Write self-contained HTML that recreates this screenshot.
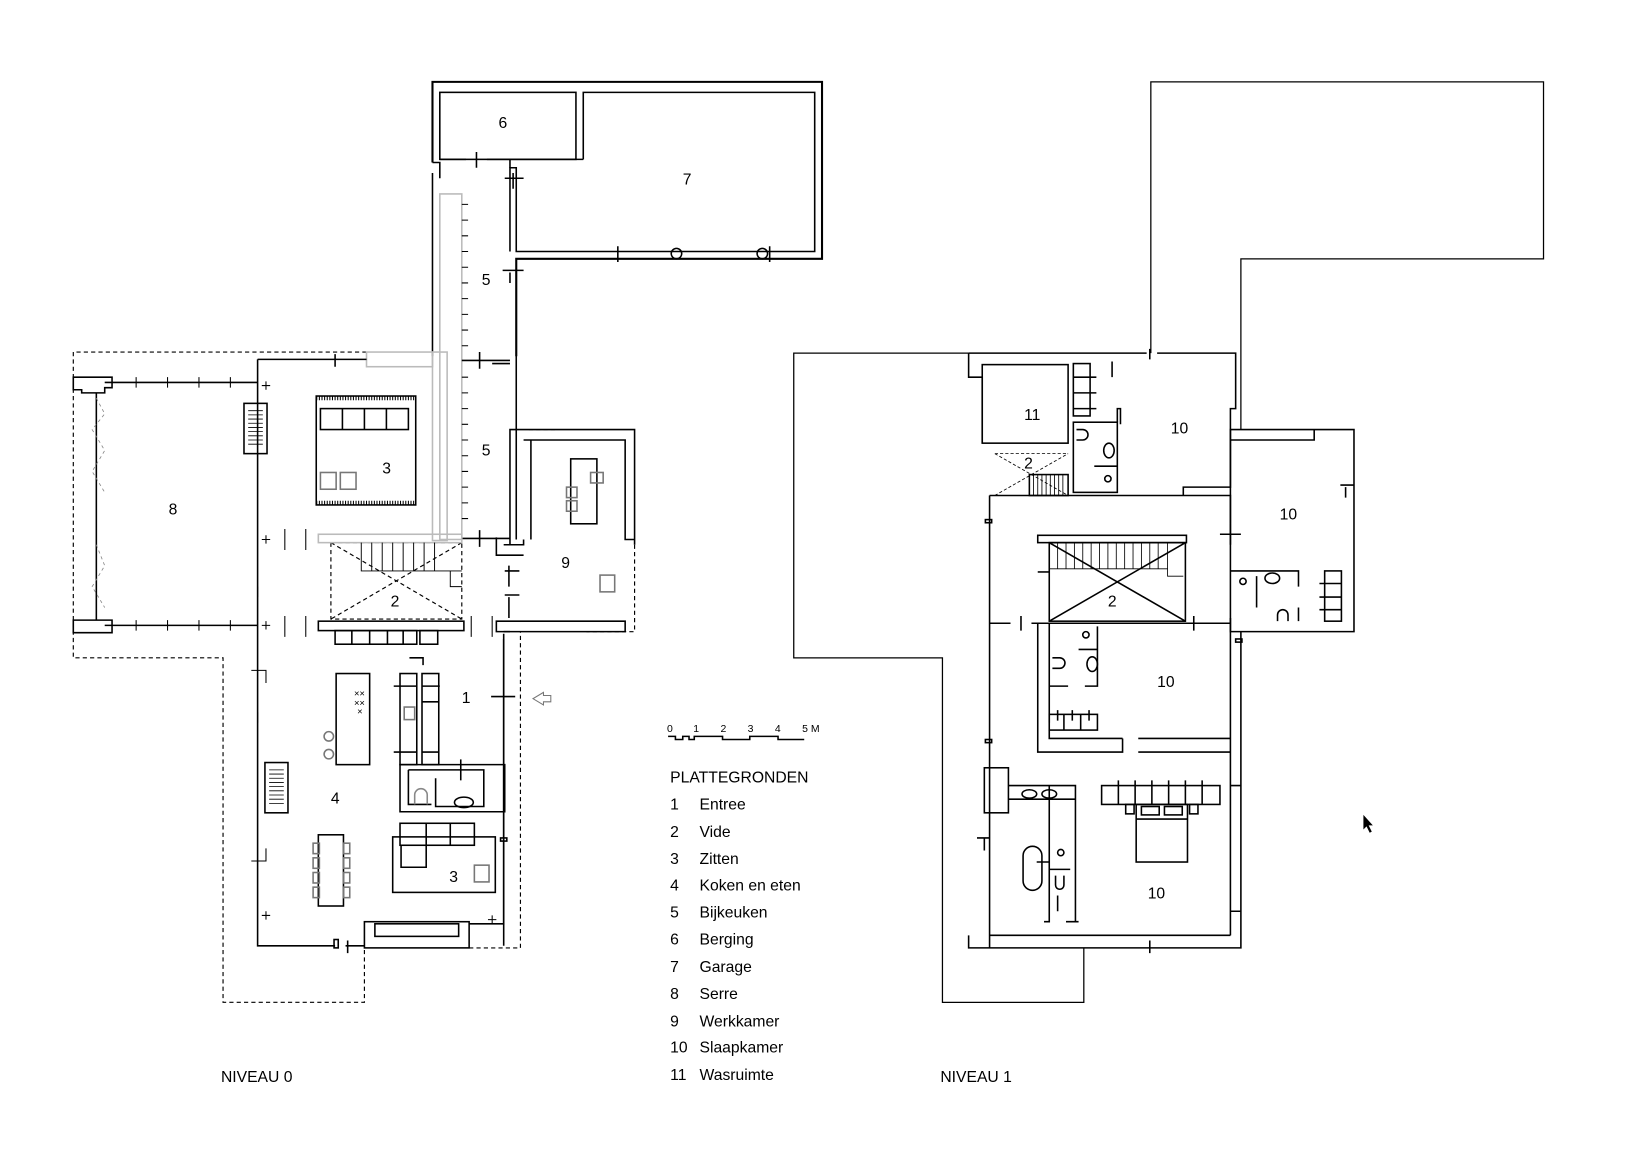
<!DOCTYPE html>
<html><head><meta charset="utf-8"><style>
html,body{margin:0;padding:0;background:#fff;}
svg{display:block}
text{font-family:"Liberation Sans",Arial,sans-serif;fill:#000}
</style></head><body>
<svg width="1643" height="1168" viewBox="0 0 1569 1115" xmlns="http://www.w3.org/2000/svg">
<g fill="none" stroke="#000" stroke-width="1.5">
<!-- ===== NIVEAU 0 ===== -->
<!-- dashed outlines -->
<g stroke-dasharray="4,3" stroke-width="1.1">
<path d="M350,336 H70 V628 H213 V957 H348 V905"/>
<path d="M448,905 H497 V603"/>
<path d="M606,520 V603 H560"/>
<path d="M505,410 H530"/>
<rect x="316" y="518" width="125" height="73"/>
<path d="M316,518 L441,591 M441,518 L316,591"/>
<path d="M577,247 H778"/>
</g>
<!-- top block -->
<path d="M413,155 V78 H785 V247 H493 V340" stroke-width="2"/>
<rect x="420" y="88" width="130" height="64"/>
<path d="M557,152 V88 H778 V240 H493 V160 H487 V240"/>
<path d="M420,152 H445 M465,152 H487 V160 M487,152 H557"/>
<path d="M413,155 H420 V170 M413,165 V340"/>
<path d="M455,145 V160 M490,165 V180 M590,235 V250 M735,235 V250 M482,170 H500 M480,258 H500"/>
<circle cx="646" cy="242" r="5"/><circle cx="728" cy="242" r="5"/>
<path d="M493,260 V515 M487,260 V270"/>
<!-- kitchen 5 fittings -->
<rect x="420" y="185" width="21" height="330" stroke="#bbb"/>
<g stroke-width="1">
<path d="M441,195H447M441,210H447M441,225H447M441,240H447M441,255H447M441,270H447M441,285H447M441,300H447M441,315H447M441,330H447M441,360H447M441,375H447M441,390H447M441,405H447M441,420H447M441,435H447M441,450H447M441,465H447M441,480H447M441,495H447"/>
</g>
<path d="M441,344 H487 M458,336 V352 M470,347 H487"/>
<path d="M441,514 H487 M458,506 V522"/>
<!-- gray walls -->
<g stroke="#bbb" stroke-width="1.5">
<rect x="350" y="336" width="63" height="14"/>
<rect x="413" y="336" width="14" height="180"/>
<rect x="304" y="510" width="137" height="8"/>
</g>
<!-- main body walls -->
<path d="M246,343 H350 M246,343 V903 H320 M330,903 H348 M448,882 H481 V605 M481,603 H487 M481,520 H493"/>
<rect x="319" y="897" width="4" height="8"/>
<path d="M332,898 V910 M320,338 V350"/>
<rect x="348" y="880" width="100" height="25"/>
<rect x="358" y="882" width="80" height="12"/>
<!-- serre -->
<path d="M100,365 H246 M100,597 H246 M92,375 V592"/>
<path d="M70,360 H107 V370 H100 V375 H78 V372 H70 Z M70,592 H107 V604 H70 Z"/>
<g stroke-width="1"><path d="M130,360V370M160,360V370M190,360V370M220,360V370M130,592V602M160,592V602M190,592V602M220,592V602"/></g>
<g stroke="#888" stroke-dasharray="3,3" stroke-width="0.8"><path d="M92,380 L100,395 L88,410 L100,430 L88,450 L100,470 M92,520 L100,540 L88,560 L100,580"/></g>
<!-- radiators -->
<rect x="233" y="385" width="22" height="48"/>
<g stroke-width="0.8"><path d="M237,392H251M237,396H251M237,400H251M237,404H251M237,408H251M237,412H251M237,416H251M237,420H251M237,424H251"/></g>
<rect x="253" y="728" width="22" height="48"/>
<g stroke-width="0.8"><path d="M257,735H271M257,739H271M257,743H271M257,747H271M257,751H271M257,755H271M257,759H271M257,763H271M257,767H271"/></g>
<!-- plus marks, door marks -->
<g stroke-width="1"><path d="M250,368H258M254,364V372M250,515H258M254,511V519M250,597H258M254,593V601M250,874H258M254,870V878M466,878H474M470,874V882"/>
<path d="M272,505V525M292,505V525M272,588V608M292,588V608M450,588V608M470,588V608M240,640H254V652M240,822H254V810M246,680V690M246,560V570"/></g>
<!-- zitten 3 upper -->
<rect x="302" y="378" width="95" height="104"/>
<g stroke-width="0.6"><path d="M302,380H397M302,480H397" stroke-dasharray="1,1.5" stroke-width="4"/></g>
<rect x="306" y="390" width="84" height="20"/>
<path d="M327,390V410M348,390V410M369,390V410"/>
<rect x="306" y="451" width="15" height="16" stroke="#777"/><rect x="325" y="451" width="15" height="16" stroke="#777"/>
<!-- stairs -->
<g stroke-width="0.9"><path d="M345,518V545H441M355,518V545M365,518V545M375,518V545M385,518V545M395,518V545M405,518V545M415,518V545M430,545V560H441"/></g>
<!-- kitchen cabinets -->
<rect x="304" y="593" width="139" height="9"/>
<rect x="320" y="602" width="78" height="13"/><rect x="401" y="602" width="17" height="13"/>
<path d="M336,602V615M353,602V615M370,602V615M385,602V615"/>
<path d="M391,628H404V635"/>
<!-- island -->
<rect x="321" y="643" width="32" height="87"/>
<circle cx="314" cy="703" r="4.5" stroke="#777"/><circle cx="314" cy="720" r="4.5" stroke="#777"/>
<text x="338" y="665" font-size="9" stroke="none">××</text><text x="338" y="674" font-size="9" stroke="none">××</text><text x="341" y="682" font-size="9" stroke="none">×</text>
<rect x="382" y="643" width="16" height="87"/><rect x="403" y="643" width="16" height="87"/>
<path d="M382,655H398M403,655H419M403,670H419M382,718H398M403,718H419M376,655H390M410,655H420M376,718H390"/>
<rect x="386" y="675" width="10" height="12" stroke="#777"/>
<!-- wc block -->
<path d="M382,730 H482 V775 H382 Z"/>
<path d="M390,735 H462 V770 H416 V743 M390,735 V768 H412"/>
<path d="M440,725V745"/>
<ellipse cx="443" cy="766" rx="9" ry="5"/>
<path d="M396,768 V759 A6,6 0 0 1 408,759 V768" stroke="#888"/>
<!-- entrance -->
<path d="M469,665 H492 M481,610 V903"/>
<path d="M519,661 L509,667 L519,673 V670 H526 V664 H519 Z" stroke="#777" stroke-width="1"/>
<rect x="478" y="800" width="6" height="3"/>
<!-- zitten 3 lower -->
<rect x="375" y="799" width="98" height="53"/>
<rect x="382" y="786" width="71" height="21"/>
<path d="M383,807 V828 H407 V807 M407,786V807 M430,786V807"/>
<rect x="453" y="826" width="14" height="16" stroke="#777"/>
<!-- dining -->
<rect x="304" y="797" width="24" height="68"/>
<g stroke="#777"><rect x="299" y="805" width="6" height="10"/><rect x="299" y="819" width="6" height="10"/><rect x="299" y="833" width="6" height="10"/><rect x="299" y="847" width="6" height="10"/>
<rect x="328" y="805" width="6" height="10"/><rect x="328" y="819" width="6" height="10"/><rect x="328" y="833" width="6" height="10"/><rect x="328" y="847" width="6" height="10"/></g>
<!-- werkkamer 9 -->
<path d="M487,520 V410 H606 V520 M500,420 H507 V515 M507,420 H597 V515 H606 M487,520 H500 V515"/>
<path d="M474,513 V530 H500 M486,540V560 M486,570V590 M482,545H496 M482,568H496"/>
<path d="M474,593 H597 V603 H474 Z"/>
<rect x="545" y="438" width="25" height="62"/>
<rect x="564" y="451" width="12" height="10" stroke="#777"/><rect x="541" y="465" width="10" height="10" stroke="#777"/><rect x="541" y="478" width="10" height="10" stroke="#777"/>
<rect x="573" y="549" width="14" height="16" stroke="#777"/>

<!-- ===== NIVEAU 1 ===== -->
<path d="M925,337 H758 V628 H900 V957 H1035 V905" stroke-width="1.2"/>
<path d="M1099,337 V78 H1474 V247 H1185 V410" stroke-width="1.2"/>
<!-- outer walls -->
<path d="M925,337 H1095 M1105,337 H1180 V390 H1175 V465 H1130 V473"/>
<path d="M925,337 V360 H938 V423 M945,473 H1175 V500 M1175,590 V603"/>
<path d="M1185,410 H1293 V603 H1175 V410 H1185"/>
<path d="M1175,420 H1255 V410 M1285,465 V475 M1280,463 H1293"/>
<path d="M945,473 V905 M925,893 V905 H1185 V603"/>
<path d="M1175,603 V893 M945,893 H1175"/>
<path d="M1098,333V343 M1098,898V910"/>
<rect x="941" y="496" width="6" height="3"/><rect x="941" y="706" width="6" height="3"/><rect x="1180" y="610" width="6" height="3"/>
<!-- room 11 -->
<rect x="938" y="348" width="82" height="75"/>
<g stroke-dasharray="3,2" stroke-width="0.8"><path d="M950,433 H1020 M950,473 L1020,433 M950,433 L1020,473"/></g>
<rect x="983" y="453" width="37" height="20"/>
<g stroke-width="0.8"><path d="M987,453V473M991,453V473M995,453V473M999,453V473M1003,453V473M1007,453V473M1011,453V473M1015,453V473"/></g>
<!-- bath top -->
<rect x="1025" y="347" width="16" height="50"/>
<path d="M1025,360H1047M1025,375H1047M1025,390H1047"/>
<rect x="1025" y="403" width="42" height="67"/>
<path d="M1067,403 V390 H1070 V405 M1062,345 V360"/>
<ellipse cx="1059" cy="430" rx="5" ry="7"/><circle cx="1058" cy="457" r="3"/>
<path d="M1028,410 H1034 A5,5 0 0 1 1034,420 H1028"/>
<path d="M1045,445 H1067"/>
<!-- middle stairs -->
<rect x="991" y="511" width="142" height="7"/>
<rect x="1002" y="518" width="130" height="75"/>
<path d="M1002,518 L1132,593 M1132,518 L1002,593"/>
<g stroke-width="0.8"><path d="M1002,543H1115M1010,518V543M1018,518V543M1026,518V543M1034,518V543M1042,518V543M1050,518V543M1058,518V543M1066,518V543M1074,518V543M1082,518V543M1090,518V543M1098,518V543M1106,518V543M1115,518V550H1130"/></g>
<path d="M991,546H1002"/>
<path d="M945,595 H965 M985,595 H1175 M975,588V602 M1140,588V602 M1165,510H1185 M1175,500V520"/>
<!-- right 10 bath -->
<path d="M1175,545 H1240 V560 M1200,550 V580 M1240,580 V593"/>
<circle cx="1187" cy="555" r="3"/><ellipse cx="1215" cy="552" rx="7" ry="5"/>
<path d="M1220,593 V587 A5,5 0 0 1 1230,587 V593"/>
<rect x="1265" y="545" width="16" height="48"/><path d="M1260,557H1281M1260,570H1281M1260,582H1281"/>
<!-- middle 10 -->
<path d="M991,595 V718 H1072 V705 M1087,718 H1175 M1087,705 H1175 M1002,595 V690 M1048,598 V655 H1036 M1020,655 H1002"/>
<circle cx="1037" cy="606" r="3"/><ellipse cx="1043" cy="634" rx="5" ry="7"/>
<path d="M1005,628 H1012 A5,5 0 0 1 1012,638 H1005"/>
<path d="M1030,620 H1048"/>
<rect x="1002" y="682" width="46" height="15"/><path d="M1016,682V697M1032,682V697 M1010,678V688M1024,678V688M1040,678V688"/>
<path d="M1002,697 V705 H1072"/>
<!-- bottom 10 -->
<rect x="940" y="733" width="23" height="43"/>
<path d="M963,750 H1027 V880 H1018 M963,763 H1027 M1002,750V823 M990,823 H1002 V880 H997 M1002,830 H1022 M1010,855V870 M1018,880H1030"/>
<ellipse cx="983" cy="758" rx="7" ry="4"/><ellipse cx="1002" cy="758" rx="7" ry="4"/>
<rect x="977" y="808" width="18" height="42" rx="9"/>
<circle cx="1013" cy="814" r="3"/>
<path d="M1008,836 V845 A4,4 0 0 0 1016,845 V836"/>
<path d="M933,800 H945 M940,800V812"/>
<rect x="1052" y="750" width="113" height="18"/>
<path d="M1068,750V768M1084,750V768M1100,750V768M1116,750V768M1132,750V768M1148,750V768 M1068,745V756M1084,745V756M1100,745V756M1116,745V756M1132,745V756M1148,745V756"/>
<rect x="1075" y="768" width="8" height="9"/><rect x="1136" y="768" width="8" height="9"/>
<rect x="1085" y="768" width="49" height="55"/>
<rect x="1090" y="770" width="17" height="8"/><rect x="1112" y="770" width="17" height="8"/>
<path d="M1085,782 H1134"/>
<path d="M1175,750 H1185 M1175,870 H1185"/>
</g>
<!-- cursor -->
<path d="M1302,778 L1302,792 L1305,789 L1308,795 L1310,794 L1307,788 L1311,788 Z" fill="#000"/>
<!-- scale bar -->
<g fill="none" stroke="#000" stroke-width="1.5"><path d="M638,703 H645 V706 H652 V703 H658 V706 H663 V703 H690 V706 H716 V703 H743 V706 H768"/></g>
<g font-size="10">
<text x="637" y="699">0</text><text x="662" y="699">1</text><text x="688" y="699">2</text><text x="714" y="699">3</text><text x="740" y="699">4</text><text x="766" y="699">5 M</text>
</g>
<!-- room labels -->
<g font-size="15">
<text x="476" y="122">6</text><text x="652" y="176">7</text><text x="460" y="272">5</text><text x="460" y="435">5</text>
<text x="365" y="452">3</text><text x="161" y="491">8</text><text x="536" y="542">9</text><text x="373" y="579">2</text>
<text x="441" y="671">1</text><text x="316" y="767">4</text><text x="429" y="842">3</text>
<text x="978" y="401">11</text><text x="1118" y="414">10</text><text x="978" y="447">2</text><text x="1222" y="496">10</text>
<text x="1058" y="579">2</text><text x="1105" y="656">10</text><text x="1096" y="858">10</text>
</g>
<!-- legend -->
<g font-size="15">
<text x="640" y="747">PLATTEGRONDEN</text>
<text x="640" y="773">1</text><text x="668" y="773">Entree</text>
<text x="640" y="799">2</text><text x="668" y="799">Vide</text>
<text x="640" y="825">3</text><text x="668" y="825">Zitten</text>
<text x="640" y="850">4</text><text x="668" y="850">Koken en eten</text>
<text x="640" y="876">5</text><text x="668" y="876">Bijkeuken</text>
<text x="640" y="902">6</text><text x="668" y="902">Berging</text>
<text x="640" y="928">7</text><text x="668" y="928">Garage</text>
<text x="640" y="954">8</text><text x="668" y="954">Serre</text>
<text x="640" y="980">9</text><text x="668" y="980">Werkkamer</text>
<text x="640" y="1005">10</text><text x="668" y="1005">Slaapkamer</text>
<text x="640" y="1031">11</text><text x="668" y="1031">Wasruimte</text>
<text x="211" y="1033">NIVEAU 0</text>
<text x="898" y="1033">NIVEAU 1</text>
</g>
</svg>
</body></html>
